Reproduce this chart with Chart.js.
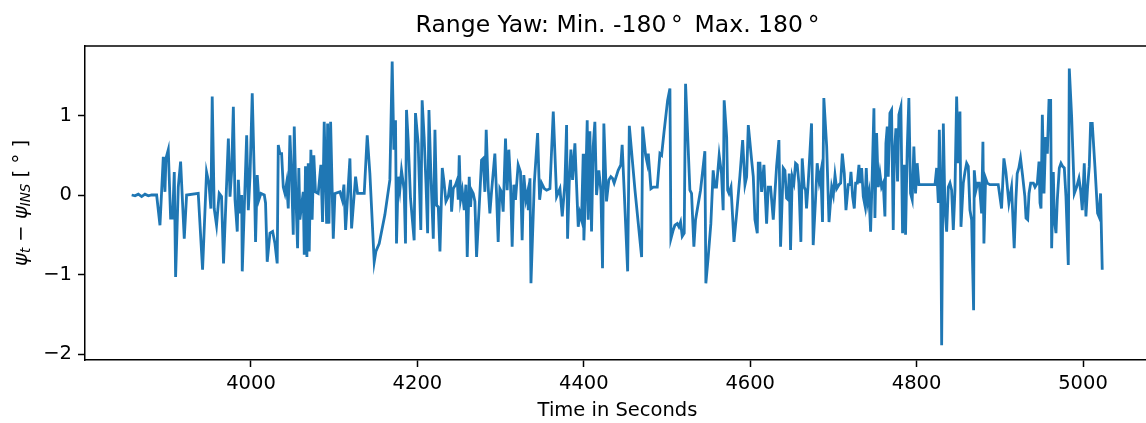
<!DOCTYPE html>
<html>
<head>
<meta charset="utf-8">
<script src="https://cdn.jsdelivr.net/npm/chart.js@4/dist/chart.umd.min.js"></script>
<style>
  html, body { margin: 0; padding: 0; overflow: hidden; background: #fff; }
  #wrap { width: 1152px; height: 423px; }
</style>
</head>
<body>
<div id="wrap"><canvas id="yawChart"></canvas></div>
<script>
// time stamps (s) and yaw difference (deg)
var times = [
  3856.6, 3860.6, 3864.6, 3868.6, 3872.6, 3876.6, 3880.6, 3886.6, 3890.6, 3894.6,
  3896.6, 3897.8, 3900.6, 3903.4, 3905.8, 3907.8, 3909.4, 3912.6, 3915.4, 3919.8,
  3922.6, 3936.6, 3941.8, 3946.6, 3949.4, 3951.8, 3953.4, 3955.8, 3958.6, 3961.8,
  3964.6, 3967.0, 3972.8, 3974.8, 3976.8, 3978.8, 3980.8, 3983.5, 3984.8, 3986.8,
  3988.8, 3989.5, 3992.0, 3994.8, 3996.8, 3998.8, 4001.5, 4004.0, 4005.5, 4007.5,
  4009.5, 4012.0, 4016.0, 4017.5, 4019.5, 4022.8, 4026.0, 4028.8, 4031.5, 4032.8,
  4034.8, 4036.8, 4038.8, 4040.8, 4042.8, 4044.8, 4046.8, 4048.8, 4050.8, 4052.0,
  4054.0, 4056.0, 4057.5, 4058.8, 4060.8, 4062.8, 4064.0, 4065.5, 4067.2, 4068.8,
  4070.0, 4072.0, 4073.5, 4075.5, 4077.5, 4080.8, 4084.0, 4086.0, 4088.0, 4090.9,
  4092.1, 4093.7, 4095.7, 4098.9, 4100.9, 4106.9, 4109.7, 4111.7, 4113.7, 4118.9,
  4120.9, 4125.7, 4128.1, 4136.1, 4139.7, 4142.9, 4148.1, 4150.1, 4154.1, 4160.9,
  4166.9, 4169.7, 4171.7, 4173.7, 4174.9, 4176.9, 4178.9, 4180.9, 4184.1, 4185.7,
  4186.9, 4188.9, 4191.7, 4196.1, 4197.7, 4200.9, 4204.1, 4205.7, 4208.1, 4210.3,
  4212.3, 4213.9, 4216.3, 4219.1, 4221.1, 4223.1, 4225.1, 4227.1, 4229.9, 4231.9,
  4234.3, 4237.1, 4239.9, 4241.1, 4243.1, 4245.9, 4247.9, 4249.1, 4250.3, 4251.9,
  4253.9, 4256.3, 4258.3, 4259.9, 4262.3, 4263.9, 4265.1, 4267.1, 4269.1, 4271.1,
  4275.1, 4277.1, 4279.1, 4281.1, 4282.7, 4285.1, 4287.1, 4289.1, 4293.1, 4295.1,
  4297.1, 4299.1, 4301.1, 4303.1, 4305.9, 4307.9, 4309.9, 4311.9, 4313.9, 4315.9,
  4317.9, 4321.1, 4323.9, 4325.9, 4327.9, 4330.5, 4332.5, 4333.3, 4335.3, 4336.5,
  4340.5, 4344.5, 4346.9, 4349.3, 4352.5, 4355.3, 4359.3, 4363.3, 4367.3, 4371.3,
  4374.1, 4377.3, 4379.3, 4380.5, 4382.5, 4384.5, 4386.5, 4389.3, 4393.3, 4395.3,
  4397.3, 4399.3, 4400.1, 4402.1, 4404.1, 4405.3, 4407.3, 4409.3, 4411.3, 4413.3,
  4415.3, 4418.1, 4420.5, 4422.5, 4424.1, 4427.3, 4430.1, 4432.5, 4434.5, 4436.5,
  4441.3, 4444.5, 4446.1, 4448.5, 4452.7, 4454.7, 4461.5, 4469.5, 4470.7, 4474.3,
  4476.3, 4477.5, 4480.7, 4483.5, 4488.3, 4491.5, 4493.5, 4496.3, 4500.7, 4503.5,
  4504.7, 4507.5, 4509.5, 4512.3, 4514.3, 4516.3, 4518.3, 4520.7, 4522.3, 4527.5,
  4529.5, 4532.3, 4534.3, 4540.3, 4545.5, 4546.7, 4549.5, 4552.7, 4555.5, 4557.5,
  4559.5, 4562.7, 4565.5, 4567.5, 4568.7, 4571.7, 4572.9, 4574.5, 4576.9, 4580.5,
  4583.7, 4587.7, 4590.9, 4593.7, 4595.7, 4597.7, 4601.7, 4603.7, 4605.7, 4608.5,
  4609.7, 4611.7, 4613.7, 4616.5, 4619.7, 4621.7, 4624.5, 4627.7, 4631.7, 4634.5,
  4636.5, 4639.7, 4641.7, 4643.7, 4645.7, 4646.9, 4648.5, 4650.5, 4652.5, 4654.5,
  4656.5, 4658.5, 4660.9, 4662.5, 4664.9, 4666.5, 4667.7, 4669.7, 4673.7, 4675.7,
  4678.5, 4680.5, 4682.9, 4684.9, 4686.9, 4688.5, 4691.9, 4694.7, 4697.9, 4699.9,
  4701.9, 4703.9, 4706.7, 4708.7, 4710.7, 4713.1, 4715.1, 4717.9, 4719.9, 4721.1,
  4723.1, 4725.1, 4726.7, 4728.7, 4730.7, 4731.9, 4733.9, 4735.9, 4737.9, 4739.5,
  4741.1, 4742.7, 4744.7, 4746.7, 4748.7, 4749.9, 4751.9, 4753.9, 4755.9, 4757.9,
  4759.9, 4761.9, 4763.1, 4764.7, 4765.9, 4767.9, 4769.9, 4771.9, 4773.1, 4775.1,
  4777.1, 4778.7, 4781.1, 4783.1, 4785.1, 4786.7, 4788.7, 4790.7, 4792.7, 4794.7,
  4796.7, 4798.7, 4800.7, 4802.7, 4808.7, 4816.1, 4822.1, 4824.1, 4826.1, 4827.3,
  4828.9, 4830.1, 4832.1, 4834.1, 4836.1, 4838.1, 4840.1, 4842.1, 4844.1, 4846.1,
  4848.1, 4850.1, 4852.1, 4853.3, 4856.1, 4858.1, 4860.1, 4862.1, 4864.1, 4866.1,
  4868.5, 4869.3, 4871.3, 4873.3, 4875.3, 4878.1, 4879.7, 4880.9, 4882.9, 4884.9,
  4888.1, 4898.1, 4902.1, 4904.9, 4907.3, 4910.9, 4914.1, 4917.3, 4919.3, 4920.9,
  4922.9, 4924.9, 4927.3, 4930.1, 4931.5, 4933.5, 4935.1, 4937.1, 4940.3, 4942.3,
  4945.1, 4947.1, 4948.3, 4949.5, 4951.1, 4953.1, 4955.1, 4957.1, 4959.1, 4961.1,
  4962.3, 4964.3, 4965.5, 4967.5, 4969.1, 4971.5, 4973.5, 4975.5, 4977.5, 4979.5,
  4982.3, 4983.5, 4986.3, 4989.5, 4992.3, 4995.1, 4997.1, 4999.1, 5001.5, 5003.5,
  5005.5, 5007.5, 5009.1, 5011.1, 5014.3, 5017.5, 5019.1, 5021.1, 5023.1
];
var yawDiff = [
  0.00, -0.01, 0.01, -0.02, 0.01, -0.01, 0.00, 0.00, -0.38, 0.48,
  0.04, 0.46, 0.57, -0.29, -0.29, 0.29, -1.03, 0.10, 0.42, -0.55,
  0.00, 0.02, -0.94, 0.29, 0.15, -0.17, 1.24, -0.17, -0.38, 0.02,
  -0.02, -0.86, 0.71, -0.02, 0.31, 1.11, -0.06, -0.46, 0.19, -0.23,
  0.00, -0.96, -0.15, 0.75, -0.19, 0.23, 1.28, 0.23, -0.59, 0.25,
  -0.06, 0.02, 0.00, -0.10, -0.84, -0.48, -0.46, -0.61, -0.86, 0.63,
  0.52, 0.52, 0.10, 0.02, 0.15, -0.17, 0.75, 0.23, -0.50, 0.86,
  -0.02, -0.67, 0.34, -0.31, -0.13, 0.04, -0.75, 0.36, -0.78, 0.40,
  -0.71, 0.57, -0.31, 0.50, 0.04, 0.02, 0.38, -0.34, 0.92, -0.36,
  0.90, -0.36, 0.92, -0.55, 0.02, 0.04, -0.06, 0.13, -0.44, 0.46,
  -0.42, 0.23, 0.02, 0.02, 0.75, 0.27, -0.84, -0.71, -0.61, -0.25,
  0.19, 1.68, 0.57, 0.94, -0.61, 0.23, 0.06, 0.31, 0.06, -0.61,
  1.07, 0.69, -0.04, -0.57, 1.03, 0.65, -0.44, 1.19, 0.73, 0.15,
  -0.48, 1.07, 0.23, -0.55, 0.82, -0.13, -0.15, -0.71, 0.34, 0.17,
  -0.08, -0.02, 0.19, -0.21, 0.08, 0.13, 0.19, -0.06, 0.50, -0.06,
  0.06, -0.19, 0.13, -0.78, 0.23, -0.15, 0.06, 0.02, -0.08, -0.78,
  0.02, 0.44, 0.46, 0.04, 0.82, 0.10, -0.23, 0.04, 0.52, 0.02,
  -0.59, 0.08, 0.04, -0.21, 0.71, 0.06, 0.57, 0.15, -0.65, 0.13,
  -0.06, 0.38, 0.29, -0.57, 0.25, -0.06, 0.04, -0.19, 0.21, -1.11,
  0.15, 0.78, -0.06, 0.15, 0.08, 0.06, 0.08, 1.05, -0.02, 0.08,
  -0.27, 0.15, 0.88, -0.55, 0.15, 0.57, 0.19, 0.65, -0.40, -0.23,
  -0.31, 0.52, -0.57, 0.06, 0.94, -0.31, 0.80, -0.46, 0.61, 0.92,
  0.00, 0.31, 0.06, -0.92, 0.90, -0.08, 0.19, 0.23, 0.21, 0.15,
  0.31, 0.38, 0.63, 0.06, -0.96, 0.87, 0.06, -0.78, 0.86, 0.50,
  0.40, 0.52, 0.08, 0.10, 0.10, 0.52, 0.50, 0.78, 1.19, 1.34,
  -0.55, -0.44, -0.38, -0.36, -0.40, -0.34, -0.52, -0.48, 1.40, 0.06,
  0.02, -0.65, -0.31, 0.06, 0.55, -1.11, -0.78, -0.36, 0.31, 0.10,
  0.10, 0.50, 0.27, -0.19, 1.19, 0.73, 0.06, 0.02, 0.10, -0.59,
  -0.23, 0.25, 0.69, 0.13, 0.23, 0.88, 0.44, 0.23, -0.31, -0.48,
  0.40, 0.40, 0.04, 0.38, -0.36, 0.10, 0.10, -0.31, 0.36, 0.69,
  -0.65, 0.34, 0.31, -0.04, -0.06, 0.27, -0.69, 0.23, 0.15, 0.40,
  0.38, 0.15, -0.59, 0.46, 0.10, 0.06, -0.17, 0.15, 0.90, -0.63,
  -0.06, 0.40, 0.17, 0.29, -0.34, 1.22, 0.61, -0.34, 0.10, 0.00,
  0.25, 0.08, 0.13, 0.15, 0.52, 0.27, -0.19, 0.13, 0.13, 0.29,
  -0.02, -0.17, 0.15, 0.15, 0.38, 0.15, 0.34, -0.02, -0.13, 0.34,
  -0.08, 0.02, -0.46, 0.27, 1.09, -0.29, 0.78, 0.10, 0.27, 0.10,
  0.15, -0.27, 0.65, 0.86, 0.23, 1.03, 1.07, -0.44, 0.48, 0.84,
  0.17, 1.01, 1.11, -0.48, 0.38, -0.50, 0.57, 1.22, 0.02, -0.06,
  0.61, 0.02, 0.40, 0.13, 0.13, 0.13, 0.13, 0.34, -0.10, 0.82,
  0.02, -1.89, 0.90, -0.19, -0.46, 0.10, 0.15, 0.06, -0.44, 0.06,
  1.24, 0.40, 1.05, -0.40, 0.15, 0.29, 0.40, 0.36, -0.19, -0.31,
  -1.45, 0.31, 0.06, 0.15, 0.15, -0.23, 0.67, -0.61, 0.21, 0.15,
  0.13, 0.13, -0.17, 0.46, 0.29, -0.10, 0.10, -0.67, -0.06, 0.27,
  0.34, 0.46, 0.25, -0.02, -0.29, -0.31, 0.02, 0.15, 0.15, 0.10,
  0.15, 0.42, -0.10, -0.17, 1.01, 0.02, 0.73, 0.52, 1.19, 1.19,
  -0.67, 0.29, -0.31, -0.48, -0.06, 0.34, 0.40, 0.36, 0.34, -0.02,
  -0.88, 1.59, 0.99, 0.02, 0.10, 0.21, 0.06, -0.19, 0.40, -0.27,
  0.10, 0.36, 0.90, 0.90, 0.36, -0.23, -0.27, 0.02, -0.94
];
var xTicks = [4000, 4200, 4400, 4600, 4800, 5000];
var yTicks = [-2, -1, 0, 1];

var fontFamily = "'DejaVu Sans', sans-serif";

// title, y label (with subscripts) and top spine
var decorPlugin = {
    id: 'decor',
    afterDraw: function (chart) {
        var ctx = chart.ctx;
        var area = chart.chartArea;
        ctx.save();
        ctx.strokeStyle = '#000';
        ctx.lineWidth = 1.5;
        ctx.beginPath();
        ctx.moveTo(area.left - 0.75, area.top);
        ctx.lineTo(area.right, area.top);
        ctx.stroke();

        ctx.fillStyle = '#000';
        ctx.textBaseline = 'middle';
        ctx.textAlign = 'center';
        ctx.font = '23.5px ' + fontFamily;
        ctx.fillText('Range Yaw: Min. -180\u2009\u00b0\u2002Max. 180\u2009\u00b0', (area.left + area.right) / 2, 26);

        // y label pieces: [text, font, dy]
        var pieces = [
            ['\u03c8', 'italic 19.5px ' + fontFamily, 0],
            ['t', 'italic 13.5px ' + fontFamily, 4],
            [' \u2212 ', '19.5px ' + fontFamily, 0],
            ['\u03c8', 'italic 19.5px ' + fontFamily, 0],
            ['INS', 'italic 13.5px ' + fontFamily, 4],
            [' [ \u00b0 ]', '19.5px ' + fontFamily, 0]
        ];
        var total = 0;
        pieces.forEach(function (p) { ctx.font = p[1]; total += ctx.measureText(p[0]).width; });
        ctx.translate(22, (area.top + area.bottom) / 2);
        ctx.rotate(-Math.PI / 2);
        ctx.textAlign = 'left';
        var cx = -total / 2;
        pieces.forEach(function (p) {
            ctx.font = p[1];
            ctx.fillText(p[0], cx, p[2]);
            cx += ctx.measureText(p[0]).width;
        });
        ctx.restore();
    }
};

var points = times.map(function (t, i) { return { x: t, y: yawDiff[i] }; });

new Chart(document.getElementById('yawChart').getContext('2d'), {
    type: 'line',
    data: {
        datasets: [{
            data: points,
            borderColor: '#1f77b4',
            borderWidth: 2.8,
            pointRadius: 0,
            tension: 0,
            fill: false
        }]
    },
    options: {
        responsive: true,
        maintainAspectRatio: false,
        animation: false,
        layout: { padding: { top: 46, right: 2, left: 0, bottom: 0 } },
        plugins: {
            legend: { display: false },
            tooltip: { enabled: false }
        },
        scales: {
            x: {
                type: 'linear',
                min: 3800.5,
                max: 5080.5,
                afterBuildTicks: function (scale) {
                    scale.ticks = xTicks.map(function (v) { return { value: v }; });
                },
                afterFit: function (scale) { scale.height = 63; },
                grid: { drawOnChartArea: false, drawTicks: true, tickLength: 7, tickColor: '#000', tickWidth: 1.5 },
                border: { display: true, color: '#000', width: 1.5 },
                ticks: {
                    color: '#000',
                    font: { family: fontFamily, size: 19.5 },
                    padding: 5,
                    maxRotation: 0,
                    autoSkip: false,
                    callback: function (v) { return String(v); }
                },
                title: {
                    display: true,
                    text: 'Time in Seconds',
                    color: '#000',
                    font: { family: fontFamily, size: 19.5 },
                    padding: { top: 0, bottom: 0 }
                }
            },
            y: {
                min: -2.075,
                max: 1.874,
                afterBuildTicks: function (scale) {
                    scale.ticks = yTicks.map(function (v) { return { value: v }; });
                },
                afterFit: function (scale) { scale.width = 85; },
                grid: { drawOnChartArea: false, drawTicks: true, tickLength: 7, tickColor: '#000', tickWidth: 1.5 },
                border: { display: true, color: '#000', width: 1.5 },
                ticks: {
                    color: '#000',
                    font: { family: fontFamily, size: 19.5 },
                    padding: 6,
                    callback: function (v) { return String(v).replace('-', '\u2212'); }
                }
            }
        }
    },
    plugins: [decorPlugin]
});
</script>
</body>
</html>
